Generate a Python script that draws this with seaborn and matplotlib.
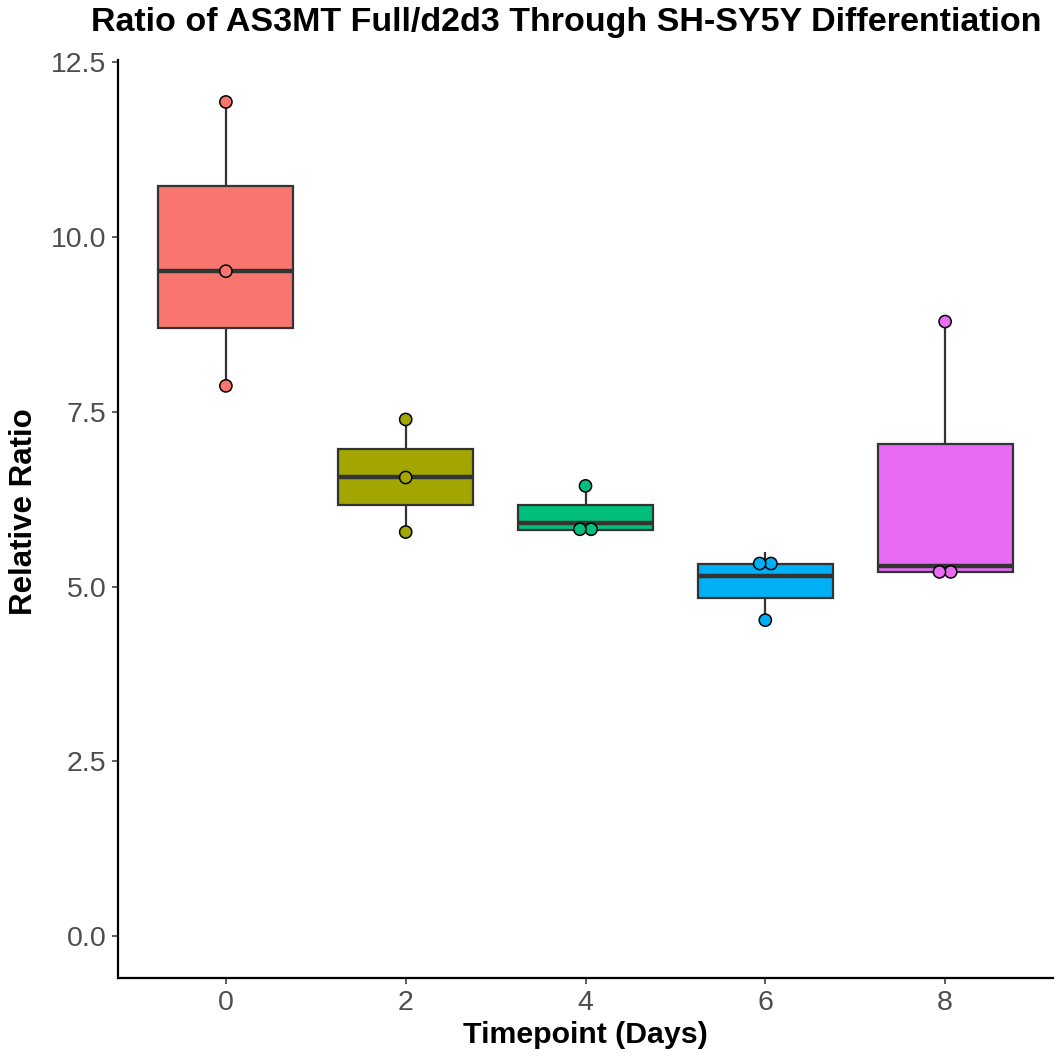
import matplotlib
matplotlib.use("Agg")
import matplotlib.pyplot as plt
import seaborn as sns
import pandas as pd
import numpy as np

# ---- data ----
timepoints = ["0", "2", "4", "6", "8"]
colors = ["#F8766D", "#A3A500", "#00BF7D", "#00B0F6", "#E76BF3"]

# observed points (3 per timepoint)
points_0 = [11.93, 9.51, 7.87]
points_2 = [7.39, 6.56, 5.78]
points_4 = [6.44, 5.82, 5.82]
points_6 = [5.33, 5.33, 4.52]
points_8 = [8.79, 5.21, 5.21]

# box summary (whisker low, Q1, median, Q3, whisker high)
box_low = [7.87, 5.78, 5.81, 4.52, 5.21]
box_q1 = [8.70, 6.16, 5.81, 4.83, 5.21]
box_median = [9.51, 6.56, 5.91, 5.15, 5.30]
box_q3 = [10.73, 6.97, 6.16, 5.32, 7.04]
box_high = [11.93, 7.39, 6.44, 5.49, 8.79]

title = "Ratio of AS3MT Full/d2d3 Through SH-SY5Y Differentiation"
xlabel = "Timepoint (Days)"
ylabel = "Relative Ratio"
yticks = [0.0, 2.5, 5.0, 7.5, 10.0, 12.5]
ytick_labels = ["0.0", "2.5", "5.0", "7.5", "10.0", "12.5"]

# ---- build tables ----
pts = []
for t, vals in zip(timepoints, [points_0, points_2, points_4, points_6, points_8]):
    for v in vals:
        pts.append({"Timepoint": t, "Ratio": v})
pts_df = pd.DataFrame(pts)

box = []
for i, t in enumerate(timepoints):
    for v in (box_low[i], box_q1[i], box_median[i], box_q3[i], box_high[i]):
        box.append({"Timepoint": t, "Ratio": v})
box_df = pd.DataFrame(box)

# ---- plot ----
sns.set_theme(style="white")
plt.rcParams["font.family"] = ["Liberation Sans", "DejaVu Sans"]

W, H = 1061, 1056
fig = plt.figure(figsize=(W / 100, H / 100), dpi=100)
ax = fig.add_axes([118 / W, 1 - 978 / H, 935 / W, 918 / H])

palette = dict(zip(timepoints, colors))
sns.boxplot(data=box_df, x="Timepoint", y="Ratio", hue="Timepoint", order=timepoints,
            hue_order=timepoints, palette=palette, width=0.75, linecolor="#333333",
            linewidth=1.6, showfliers=False, showcaps=False, saturation=1,
            medianprops={"linewidth": 3.2, "color": "#333333"},
            legend=False, ax=ax)
n_before = len(ax.collections)
sns.swarmplot(data=pts_df, x="Timepoint", y="Ratio", hue="Timepoint", order=timepoints,
              hue_order=timepoints, palette=palette, size=8.8, edgecolor="black",
              linewidth=1.1, legend=False, ax=ax)

ax.set_xlim(-0.6, 4.6)
ax.set_ylim(-0.597, 12.53)
ax.set_yticks(yticks)
ax.set_yticklabels(ytick_labels)

for s in ["top", "right"]:
    ax.spines[s].set_visible(False)
for s in ["left", "bottom"]:
    ax.spines[s].set_color("black")
    ax.spines[s].set_linewidth(1.6)

ax.tick_params(axis="both", which="both", length=4.5, width=1.1, color="#333333",
               labelsize=20.5, labelcolor="#4D4D4D", pad=4, left=True, bottom=True)

ax.set_xlabel(xlabel, fontsize=21.8, fontweight="bold", color="black")
ax.set_ylabel(ylabel, fontsize=22.5, fontweight="bold", color="black")
ax.xaxis.set_label_coords((585 - 118) / 935, -(1035 - 978) / 918)
ax.xaxis.label.set_va("center")
ax.yaxis.set_label_coords((24 - 118) / 935, (978 - 512) / 918)
ax.yaxis.label.set_va("center")

fig.text(566 / W, 1 - 23 / H, title, ha="center", va="center",
         fontsize=24.5, fontweight="bold", color="black")

# compute the swarm, then centre each cluster symmetrically on its category
fig.canvas.draw()
for coll in ax.collections[n_before:]:
    if "draw" in coll.__dict__:
        del coll.__dict__["draw"]  # freeze swarm positions computed above
    off = np.array(coll.get_offsets(), dtype=float)
    if len(off) == 0:
        continue
    centre = np.round(off[:, 0])
    used = np.zeros(len(off), dtype=bool)
    for i in range(len(off)):
        if used[i]:
            continue
        idx = np.where((~used) & (np.abs(off[:, 1] - off[i, 1]) < 0.15))[0]
        used[idx] = True
        xs = off[idx, 0]
        off[idx, 0] = centre[idx] + (xs - xs.mean()) * 0.78
    coll.set_offsets(off)

fig.savefig("out.png", dpi=100)
